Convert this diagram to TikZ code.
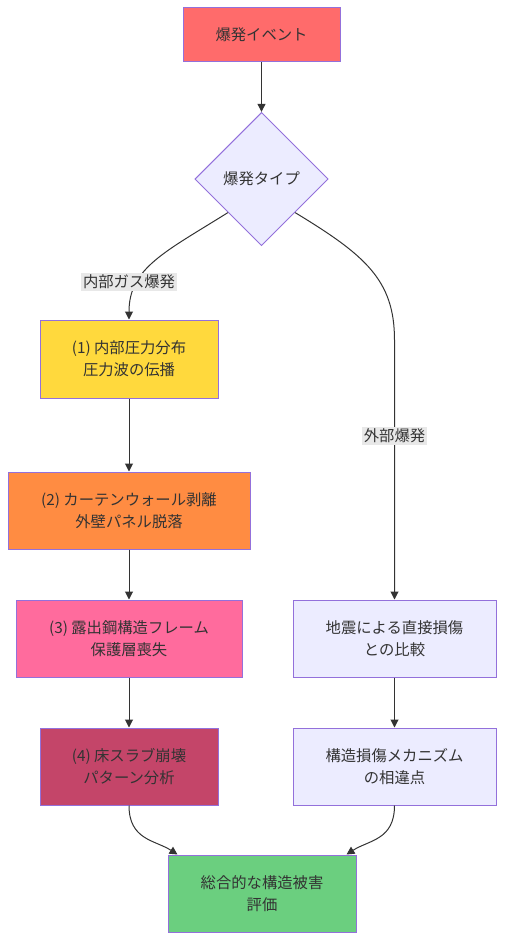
\documentclass[tikz,border=0pt]{standalone}
\usepackage{fontspec}
\setmainfont{Noto Sans CJK JP}
\usetikzlibrary{shapes.geometric,arrows.meta}
\definecolor{txtgray}{HTML}{333333}
\definecolor{edgegray}{HTML}{333333}
\definecolor{boxline}{HTML}{9370DB}
\definecolor{lavender}{HTML}{ECECFF}
\definecolor{evred}{HTML}{FF6B6B}
\definecolor{evyellow}{HTML}{FFD93D}
\definecolor{evorange}{HTML}{FF8C42}
\definecolor{evpink}{HTML}{FF6B9D}
\definecolor{evcrimson}{HTML}{C44569}
\definecolor{evgreen}{HTML}{6BCF7F}
\definecolor{lblgray}{HTML}{E8E8E8}
\tikzset{
  box/.style={draw=boxline, line width=0.75pt, rectangle, align=center,
    text=txtgray, font=\fontsize{11.5}{16.5}\selectfont, minimum height=57.75pt},
  choice/.style={draw=boxline, line width=0.75pt, diamond, fill=lavender,
    text=txtgray, font=\fontsize{11.5}{16.5}\selectfont, inner sep=0pt,
    minimum width=100pt, minimum height=100pt},
  edgelbl/.style={fill=lblgray, text=txtgray, inner sep=1.5pt,
    font=\fontsize{11.5}{14}\selectfont},
  flow/.style={draw=edgegray, line width=0.75pt, -{Triangle[length=6pt,width=6pt]}}
}

\begin{document}
\begin{tikzpicture}[x=0.75pt,y=-0.75pt]
    \useasboundingbox (0,0) rectangle (505,942);
    \node[box,fill=evred,minimum width=117.75pt,minimum height=40.5pt] (event) at (261.5,35) {爆発イベント};
    \node[choice] (kind) at (261.5,179) {爆発タイプ};
    \node[box,fill=evyellow,minimum width=133.5pt,minimum height=58.5pt] (press) at (129,359) {(1) 内部圧力分布\\圧力波の伝播};
    \node[box,fill=evorange,minimum width=181.5pt] (curtain) at (129,510.5) {(2) カーテンウォール剥離\\外壁パネル脱落};
    \node[box,fill=evpink,minimum width=169.5pt] (frame) at (129,638.5) {(3) 露出鋼構造フレーム\\保護層喪失};
    \node[box,fill=evcrimson,minimum width=133.5pt] (slab) at (129,766.5) {(4) 床スラブ崩壊\\パターン分析};
    \node[box,fill=lavender,minimum width=152.25pt] (quake) at (394.5,638.5) {地震による直接損傷\\との比較};
    \node[box,fill=lavender,minimum width=152.25pt] (mech) at (394.5,766.5) {構造損傷メカニズム\\の相違点};
    \node[box,fill=evgreen,minimum width=141pt] (total) at (262,893.5) {総合的な構造被害\\評価};

    \draw[flow] (event) -- (kind);
    \draw[flow] (kind.south west) .. controls (165,252) and (129,268) .. (press.north);
    \draw[flow] (kind.south east) .. controls (365,255) and (394.5,280) .. (394.5,340) -- (quake.north);
    \draw[flow] (press) -- (curtain);
    \draw[flow] (curtain) -- (frame);
    \draw[flow] (frame) -- (slab);
    \draw[flow] (quake) -- (mech);
    \draw[flow] (slab.south) .. controls (129,840) and (155,840) .. ([xshift=7.5pt]total.north west);
    \draw[flow] (mech.south) .. controls (394.5,840) and (369,840) .. ([xshift=-7.5pt]total.north east);

    \node[edgelbl] (lblin) at (129,282) {内部ガス爆発};
    \node[edgelbl] (lblout) at (394.5,436) {外部爆発};
\end{tikzpicture}
\end{document}
